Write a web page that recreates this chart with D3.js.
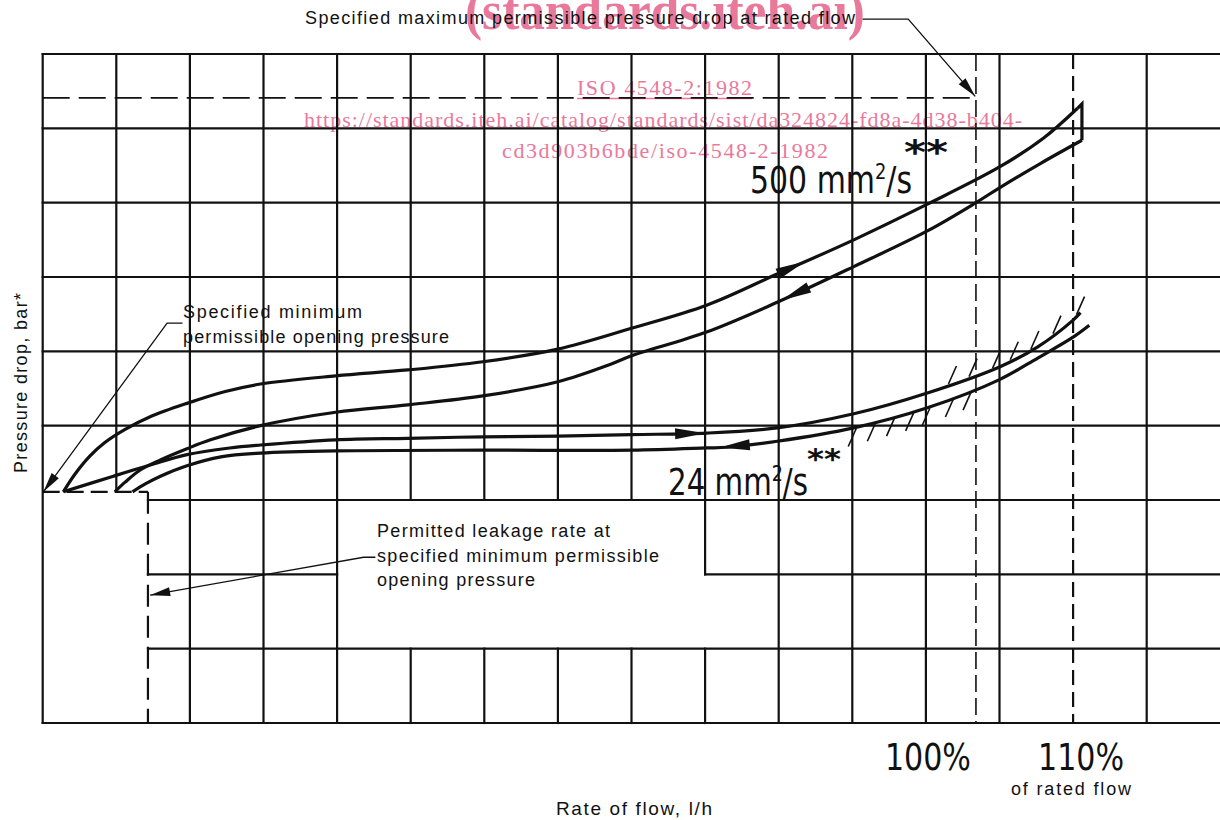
<!DOCTYPE html>
<html>
<head>
<meta charset="utf-8">
<script src="https://cdn.jsdelivr.net/npm/d3@7"></script>
<style>
  body { margin: 0; background: #fff; }
  svg { display: block; }
  text { font-family: "Liberation Sans", Arial, sans-serif; fill: #111; }
</style>
</head>
<body>
<svg id="chart" width="1220" height="820"></svg>
<script>
// flow is in % of rated flow, pressure drop in grid divisions (the sheet has no bar values)
const flowDomain = [40, 120];
const dpDomain = [0, 9];

// 500 mm2/s loop, rising branch then the return branch
const v500UpFlow = [41.4, 42.2, 43.2, 44.2, 45.6, 47.3, 49.8, 52.4, 54.8, 59.9, 64.8, 69.9, 75.0, 80.0, 85.1, 89.9, 95.1, 100.1, 105.0, 108.0, 110.3];
const v500UpDp   = [3.11, 3.35, 3.59, 3.77, 3.95, 4.12, 4.30, 4.46, 4.56, 4.67, 4.75, 4.86, 5.03, 5.31, 5.62, 6.04, 6.50, 6.98, 7.48, 7.87, 8.27];
const v500DownFlow = [110.6, 107.8, 105.0, 103.4, 100.1, 95.1, 89.9, 85.1, 80.0, 78.5, 75.0, 69.9, 64.8, 59.9, 54.8, 51.4, 49.8, 48.0, 46.6, 45.6, 44.9];
const v500DownDp   = [7.84, 7.53, 7.20, 7.00, 6.62, 6.14, 5.66, 5.26, 4.94, 4.82, 4.59, 4.40, 4.28, 4.18, 4.00, 3.81, 3.69, 3.54, 3.40, 3.24, 3.11];

// 24 mm2/s loop
const v24UpFlow = [41.4, 44.8, 47.3, 49.8, 52.7, 54.8, 59.9, 64.8, 69.9, 75.0, 80.0, 85.1, 89.9, 95.1, 100.1, 105.0, 107.6, 110.0, 110.5];
const v24UpDp   = [3.11, 3.32, 3.47, 3.61, 3.70, 3.74, 3.81, 3.83, 3.85, 3.86, 3.88, 3.90, 3.97, 4.16, 4.44, 4.79, 5.06, 5.42, 5.52];
const v24DownFlow = [111.1, 110.0, 107.6, 105.0, 100.1, 95.1, 89.9, 86.5, 85.1, 80.0, 69.9, 59.9, 54.8, 52.1, 49.8, 48.0, 47.0, 46.1];
const v24DownDp   = [5.35, 5.19, 4.91, 4.62, 4.24, 3.97, 3.79, 3.71, 3.70, 3.67, 3.67, 3.66, 3.63, 3.58, 3.46, 3.32, 3.22, 3.11];

// where the flow arrows sit (tip position, % flow)
const arrowFlow = { up500: 91.8, down500: 90.2, up24: 85.0, down24: 86.0 };

// hatch ticks along the 24 mm2/s loop
const hatchLowFlow = [95.2, 96.5, 97.8, 99.1, 100.2, 101.8, 103.0];
const hatchHighFlow = [101.6, 103.0, 104.6, 105.8, 107.2, 108.7, 110.3];

// reference levels
const openingDp = 3.11;      // specified minimum permissible opening pressure
const leakFlow = 47.15;      // permitted leakage rate
const maxDropDp = 8.41;      // specified maximum permissible pressure drop
const maxDropFlow = 103.4;
const ratedMarks = [103.4, 110];
const flowTickLabels = [[100, "100%"], [110, "110%"]];

// grid, with the pieces that are left out of the drawing
const gridFlow = [40, 45, 50, 55, 60, 65, 70, 75, 80, 85, 90, 95, 100, 105, 115];
const gridFlowSpans = [
    [[0, 9]], [[3.11, 9]], [[0, 9]], [[0, 9]], [[0, 9]],
    [[0, 1], [3, 9]], [[0, 1], [3, 9]], [[0, 1], [3, 9]], [[0, 1], [3, 9]],
    [[0, 1], [2, 9]], [[0, 9]], [[0, 9]], [[0, 9]], [[0, 9]], [[0, 9]]
];
const gridDp = [0, 1, 2, 3, 4, 5, 6, 7, 8, 9];
const gridDpSpans = [
    [[40, 120]], [[47.15, 120]], [[47.15, 60], [85, 120]], [[47.15, 120]],
    [[40, 120]], [[40, 120]], [[40, 120]], [[40, 120]], [[40, 120]], [[40, 120]]
];

const svg = d3.select('#chart');

const x = d3.scaleLinear().domain(flowDomain).range([42.7, 1220.3]);
const y = d3.scaleLinear().domain(dpDomain).range([723, 54]);

const zip = (a, b) => a.map((d, i) => [d, b[i]]);

// linear lookup on a branch, whatever its direction
function dpAt(flows, dps, f) {
    let pts = zip(flows, dps).sort((a, b) => a[0] - b[0]);
    let i = Math.max(1, Math.min(pts.length - 1, d3.bisector(d => d[0]).left(pts, f)));
    let [f0, p0] = pts[i - 1], [f1, p1] = pts[i];
    return p0 + (p1 - p0) * (f - f0) / (f1 - f0);
}

function label(txt, px, py, size, len, opts = {}) {
    let t = (opts.parent || svg).append('text')
        .attr('x', px).attr('y', py)
        .attr('font-size', size)
        .text(txt);
    if (len) t.attr('textLength', len).attr('lengthAdjust', opts.adjust || 'spacing');
    if (opts.family) t.style('font-family', opts.family);
    if (opts.weight) t.attr('font-weight', opts.weight);
    if (opts.anchor) t.attr('text-anchor', opts.anchor);
    if (opts.fill) t.style('fill', opts.fill);
    if (opts.rotate) t.attr('transform', `rotate(${opts.rotate},${px},${py})`);
    return t;
}

// ---- watermark, sits under the drawing
const pink = '#e9799b';
const serif = '"Liberation Serif", "DejaVu Serif", serif';
let wm = svg.append('g').attr('class', 'watermark');
label('(standards.iteh.ai)', 465, 29, 54, 400, { parent: wm, family: serif, weight: 'bold', fill: pink, adjust: 'spacingAndGlyphs' });
label('ISO 4548-2:1982', 577, 95, 22, 175, { parent: wm, family: serif, fill: pink });
wm.append('line').attr('x1', 577).attr('x2', 752).attr('y1', 98.5).attr('y2', 98.5)
    .attr('stroke', pink).attr('stroke-width', 1.3);
label('https://standards.iteh.ai/catalog/standards/sist/da324824-fd8a-4d38-b404-', 304, 127, 22, 718,
    { parent: wm, family: serif, fill: pink });
label('cd3d903b6bde/iso-4548-2-1982', 502, 158, 22, 326, { parent: wm, family: serif, fill: pink });

// ---- grid
let gridSegs = [];
gridFlow.forEach((f, i) => gridFlowSpans[i].forEach(s =>
    gridSegs.push([x(f), y(s[0]), x(f), y(s[1])])));
gridDp.forEach((p, i) => gridDpSpans[i].forEach(s =>
    gridSegs.push([x(s[0]), y(p), x(s[1]), y(p)])));

svg.append('g').attr('class', 'grid')
    .selectAll('line').data(gridSegs).join('line')
    .attr('x1', d => d[0]).attr('y1', d => d[1])
    .attr('x2', d => d[2]).attr('y2', d => d[3])
    .attr('stroke', '#111').attr('stroke-width', 2.2)
    .attr('stroke-linecap', 'square');

// ---- dashed reference lines
let dashes = svg.append('g').attr('class', 'dashes').attr('stroke', '#111').attr('fill', 'none');

dashes.append('line')
    .attr('x1', x(40)).attr('x2', x(maxDropFlow))
    .attr('y1', y(maxDropDp)).attr('y2', y(maxDropDp))
    .attr('stroke-width', 1.8).attr('stroke-dasharray', '27 9');

dashes.selectAll('line.rated').data(ratedMarks).join('line')
    .attr('class', 'rated')
    .attr('x1', d => x(d)).attr('x2', d => x(d))
    .attr('y1', y(9)).attr('y2', y(0))
    .attr('stroke-width', (d, i) => i ? 2.2 : 1.6)
    .attr('stroke-dasharray', (d, i) => i ? '15 7' : '17 6');

dashes.append('line')
    .attr('x1', x(40)).attr('x2', x(leakFlow))
    .attr('y1', y(openingDp)).attr('y2', y(openingDp))
    .attr('stroke-width', 2.2).attr('stroke-dasharray', '17 7');

dashes.append('line')
    .attr('x1', x(leakFlow)).attr('x2', x(leakFlow))
    .attr('y1', y(openingDp)).attr('y2', y(0))
    .attr('stroke-width', 2.2).attr('stroke-dasharray', '22 9');

// ---- flow curves
const line = d3.line()
    .x(d => x(d[0])).y(d => y(d[1]))
    .curve(d3.curveCatmullRom.alpha(0.5));

const branches = [
    { key: 'up500', f: v500UpFlow, p: v500UpDp, dir: 1 },
    { key: 'down500', f: v500DownFlow, p: v500DownDp, dir: -1 },
    { key: 'up24', f: v24UpFlow, p: v24UpDp, dir: 1 },
    { key: 'down24', f: v24DownFlow, p: v24DownDp, dir: -1 }
];

let curves = svg.append('g').attr('class', 'curves');

curves.selectAll('path.branch').data(branches).join('path')
    .attr('class', 'branch')
    .attr('d', b => line(zip(b.f, b.p).sort((a, c) => a[0] - c[0])))
    .attr('fill', 'none').attr('stroke', '#111').attr('stroke-width', 3.2)
    .attr('stroke-linejoin', 'round');

// close the 500 loop at the top end
let upEnd = [v500UpFlow[v500UpFlow.length - 1], v500UpDp[v500UpDp.length - 1]];
let downStart = [v500DownFlow[0], v500DownDp[0]];
curves.append('path')
    .attr('d', d3.line().x(d => x(d[0])).y(d => y(d[1]))([upEnd, [downStart[0], upEnd[1] + 0.06], downStart]))
    .attr('fill', 'none').attr('stroke', '#111').attr('stroke-width', 3.2)
    .attr('stroke-linejoin', 'miter');

// arrowhead at px point, pointing along unit vector u
function arrowHead(tip, u, len, half) {
    let n = [-u[1], u[0]];
    let b = [tip[0] - u[0] * len, tip[1] - u[1] * len];
    return [tip, [b[0] + n[0] * half, b[1] + n[1] * half], [b[0] - n[0] * half, b[1] - n[1] * half]];
}

function unit(a, b) {
    let dx = b[0] - a[0], dy = b[1] - a[1], l = Math.hypot(dx, dy);
    return [dx / l, dy / l];
}

let flowArrows = branches.map(b => {
    let f = arrowFlow[b.key];
    let tip = [x(f), y(dpAt(b.f, b.p, f))];
    let back = [x(f - b.dir * 1.5), y(dpAt(b.f, b.p, f - b.dir * 1.5))];
    return arrowHead(tip, unit(back, tip), 30, 5.5);
});

curves.selectAll('polygon.flowarrow').data(flowArrows).join('polygon')
    .attr('class', 'flowarrow')
    .attr('points', d => d.map(p => p.join(',')).join(' '))
    .attr('fill', '#111');

// hatching on the 24 mm2/s loop
let hatch = hatchLowFlow.map(f => {
    let p = [x(f), y(dpAt(v24DownFlow, v24DownDp, f))];
    return [p[0] + 1, p[1] + 1, p[0] - 7, p[1] + 19];
}).concat(hatchHighFlow.map(f => {
    let p = [x(f), y(dpAt(v24UpFlow, v24UpDp, f))];
    return [p[0] - 1, p[1] - 1, p[0] + 7, p[1] - 19];
}));

curves.selectAll('line.hatch').data(hatch).join('line')
    .attr('class', 'hatch')
    .attr('x1', d => d[0]).attr('y1', d => d[1])
    .attr('x2', d => d[2]).attr('y2', d => d[3])
    .attr('stroke', '#111').attr('stroke-width', 1.6);

// ---- leader lines for the notes (in chart units)
const leaders = [
    [[95.7, 9.47], [98.8, 9.47], [maxDropFlow - 0.05, maxDropDp + 0.02]],
    [[49.5, 5.38], [48.45, 5.38], [40.05, openingDp]],
    [[62.6, 2.23], [61.8, 2.23], [leakFlow + 0.15, 1.72]]
];

let notes = svg.append('g').attr('class', 'leaders');
notes.selectAll('polyline').data(leaders).join('polyline')
    .attr('points', d => d.map(p => [x(p[0]), y(p[1])].join(',')).join(' '))
    .attr('fill', 'none').attr('stroke', '#111').attr('stroke-width', 1.3);

notes.selectAll('polygon').data(leaders.map(d => {
    let a = [x(d[1][0]), y(d[1][1])], tip = [x(d[2][0]), y(d[2][1])];
    return arrowHead(tip, unit(a, tip), 20, 4.5);
})).join('polygon')
    .attr('points', d => d.map(p => p.join(',')).join(' '))
    .attr('fill', '#111');

// ---- text
label('Specified maximum permissible pressure drop at rated flow', 305, 24, 18, 550);
label('Specified minimum', 183, 318, 18, 179);
label('permissible opening pressure', 183, 343, 18, 266);
label('Permitted leakage rate at', 377, 537, 18, 233);
label('specified minimum permissible', 377, 562, 18, 282);
label('opening pressure', 377, 586, 18, 158);
label('Pressure drop, bar*', 27, 473, 18, 180, { rotate: -90 });
label('Rate of flow, l/h', 556, 815, 19, 156);
label('of rated flow', 1011, 795, 18, 120);

const narrow = '"DejaVu Sans Condensed", "Liberation Sans Narrow", sans-serif';
// the 110 % label sits a little right of its line on the sheet
const tickNudge = [2, 8];
flowTickLabels.forEach(([f, t], i) =>
    label(t, x(f) + tickNudge[i], 770, 38, 86, { family: narrow, anchor: 'middle', adjust: 'spacingAndGlyphs' }));

function viscLabel(num, px, py, len, starX, starY, starSize, starLen) {
    let t = label(num + ' mm', px, py, 37, null, { family: narrow });
    t.append('tspan').attr('dy', -14).attr('font-size', 22).text('2');
    t.append('tspan').attr('dy', 14).text('/s');
    t.attr('textLength', len).attr('lengthAdjust', 'spacingAndGlyphs');
    label('**', starX, starY, starSize, starLen,
        { weight: 'bold', family: '"DejaVu Sans", sans-serif', adjust: 'spacingAndGlyphs' });
}
viscLabel('500', 750, 193, 162, 904, 164, 33, 44);
viscLabel('24', 668, 495, 140, 807, 469, 29, 34);
</script>
</body>
</html>
